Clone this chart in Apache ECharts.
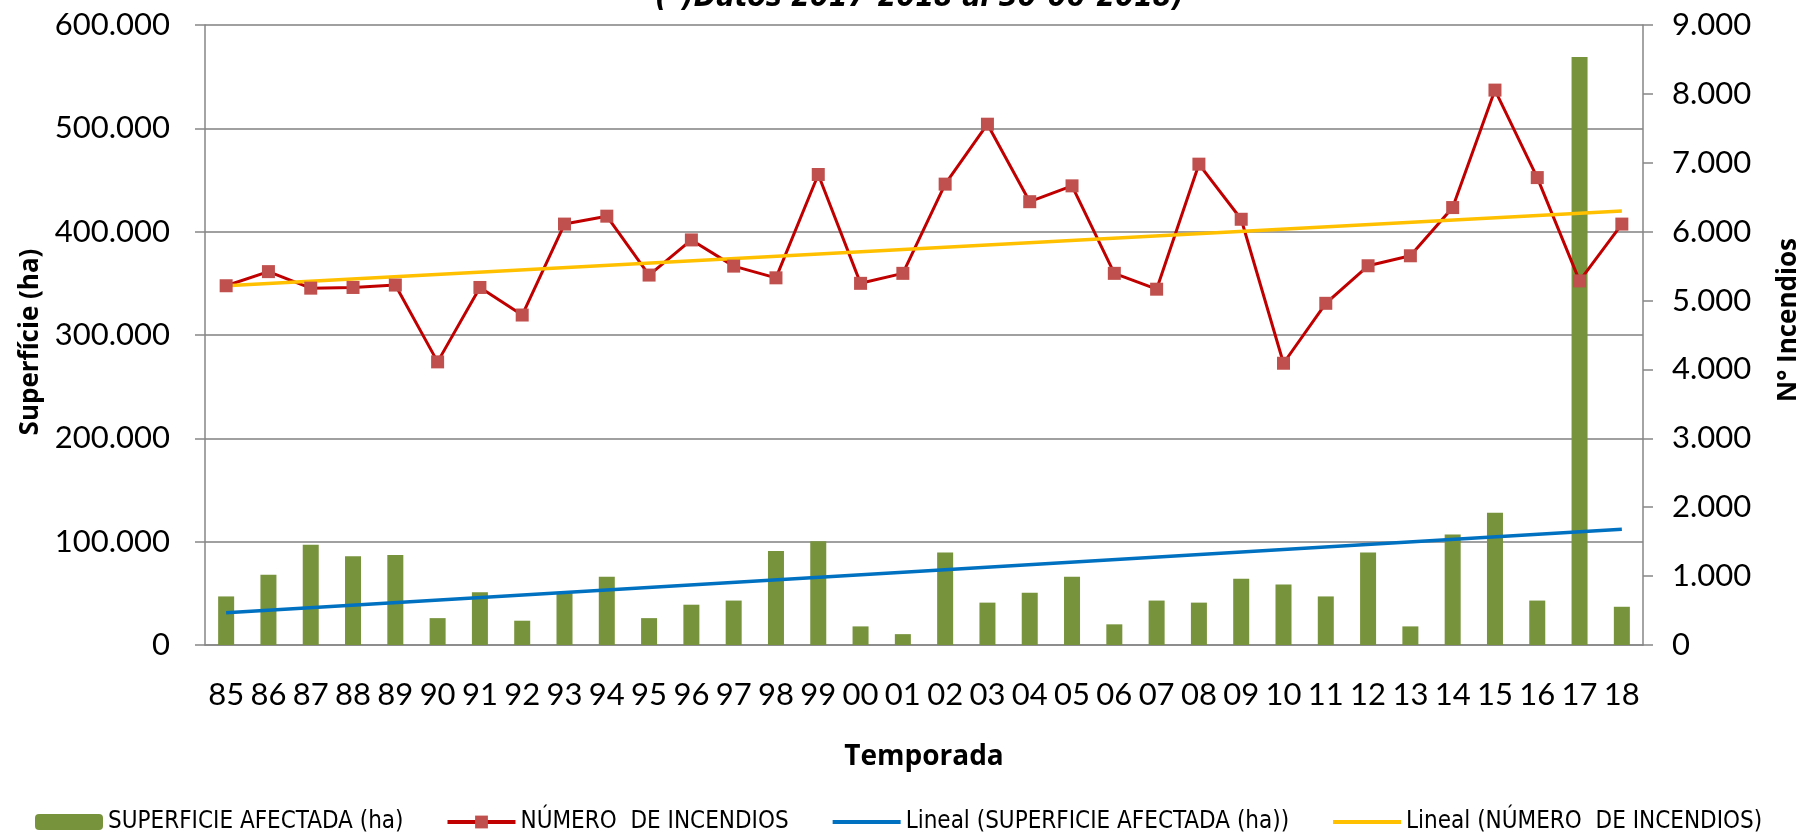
<!DOCTYPE html>
<html>
<head>
<meta charset="utf-8">
<title>Superficie afectada y número de incendios</title>
<script src="https://cdn.jsdelivr.net/npm/echarts@6/dist/echarts.min.js"></script>
<style>
  html, body { margin: 0; padding: 0; background: #fff; }
  #chart { width: 1804px; height: 835px; }
</style>
</head>
<body>
<div id="chart"></div>
<script>
// temporadas 1985 - 2018
const temporadas = ['85', '86', '87', '88', '89', '90', '91', '92', '93', '94', '95', '96', '97', '98', '99', '00', '01',
  '02', '03', '04', '05', '06', '07', '08', '09', '10', '11', '12', '13', '14', '15', '16', '17', '18']

// superficie afectada (ha)
const superficie = [47000, 68000, 97000, 86000, 87000, 26000, 51000, 23500, 50000, 66000, 26000, 39000, 43000, 91000, 100500, 18000, 10500,
  89500, 41000, 50500, 66000, 20000, 43000, 41000, 64000, 58500, 47000, 89500, 18000, 107000, 128000, 43000, 569000, 37000]

// número de incendios
const incendios = [5215, 5420, 5180, 5190, 5225, 4110, 5190, 4790, 6110, 6225, 5370, 5880, 5500, 5330, 6830, 5250, 5395,
  6690, 7560, 6435, 6665, 5395, 5165, 6980, 6180, 4090, 4960, 5505, 5650, 6350, 8055, 6785, 5285, 6110]

// líneas de tendencia (inicio 85, fin 18)
const tendSuperficie = [31300, 112000]
const tendIncendios = [5215, 6300]

const fontLabel = "Lato, 'Open Sans', sans-serif"
const fontLegend = "'DejaVu Sans Condensed', sans-serif"
const fontBold = "'Open Sans', 'Noto Sans', sans-serif"

const fmt = v => v.toLocaleString('de-DE')

const chart = echarts.init(document.getElementById('chart'))

chart.setOption({
  animation: false,
  textStyle: { fontFamily: fontLabel },
  graphic: [{
    type: 'text',
    left: 655,
    top: -17,
    style: {
      text: '(*)Datos 2017-2018 al 30-06-2018)',
      font: 'italic bold 30px ' + fontLegend,
      fill: '#000'
    }
  }],
  grid: {
    left: 205,
    right: 161,
    top: 25,
    bottom: 190,
    outerBoundsMode: 'none'
  },
  legend: {
    left: 30,
    bottom: -4,
    itemWidth: 68,
    itemHeight: 16,
    itemGap: 42,
    lineStyle: { width: 4 },
    textStyle: { fontSize: 24, color: '#000', fontFamily: fontLegend },
    data: ['SUPERFICIE AFECTADA (ha)', 'NÚMERO  DE INCENDIOS', 'Lineal (SUPERFICIE AFECTADA (ha))', 'Lineal (NÚMERO  DE INCENDIOS)']
  },
  xAxis: {
    type: 'category',
    data: temporadas,
    name: 'Temporada',
    nameLocation: 'middle',
    nameGap: 98,
    nameTextStyle: { fontSize: 28, fontWeight: 'bold', color: '#000', fontFamily: fontBold },
    axisLine: { lineStyle: { color: '#868686', width: 1.5 } },
    axisTick: { length: 12, lineStyle: { color: '#868686', width: 1.5 } },
    axisLabel: { fontSize: 31, color: '#000', margin: 34, interval: 0 }
  },
  yAxis: [{
    type: 'value',
    min: 0,
    max: 600000,
    interval: 100000,
    name: 'Superfície (ha)',
    nameLocation: 'middle',
    nameGap: 145,
    nameTextStyle: { fontSize: 26, fontWeight: 'bold', color: '#000', fontFamily: fontBold, padding: [0, 14, 0, 0] },
    axisLine: { show: true, lineStyle: { color: '#868686', width: 1.5 } },
    axisTick: { show: true, length: 10, lineStyle: { color: '#868686', width: 1.5 } },
    axisLabel: { fontSize: 31, color: '#000', margin: 35, formatter: fmt },
    splitLine: { lineStyle: { color: '#a0a0a0', width: 2 } }
  }, {
    type: 'value',
    min: 0,
    max: 9000,
    interval: 1000,
    name: 'N° Incendios',
    nameLocation: 'middle',
    nameGap: 133,
    nameTextStyle: { fontSize: 26, fontWeight: 'bold', color: '#000', fontFamily: fontBold, padding: [0, 0, 0, 30] },
    axisLine: { show: true, lineStyle: { color: '#868686', width: 1.5 } },
    axisTick: { show: true, length: 10, lineStyle: { color: '#868686', width: 1.5 } },
    axisLabel: { fontSize: 31, color: '#000', margin: 29, formatter: fmt },
    splitLine: { show: false }
  }],
  series: [{
    name: 'SUPERFICIE AFECTADA (ha)',
    type: 'bar',
    data: superficie,
    barWidth: 16,
    itemStyle: { color: '#77933C' }
  }, {
    name: 'NÚMERO  DE INCENDIOS',
    type: 'line',
    yAxisIndex: 1,
    data: incendios,
    symbol: 'rect',
    symbolSize: 13,
    lineStyle: { color: '#C00000', width: 3 },
    itemStyle: { color: '#C0504D' }
  }, {
    name: 'Lineal (SUPERFICIE AFECTADA (ha))',
    type: 'line',
    data: [[0, tendSuperficie[0]], [temporadas.length - 1, tendSuperficie[1]]],
    symbol: 'none',
    lineStyle: { color: '#0070C0', width: 3.5 },
    itemStyle: { color: 'rgba(0,0,0,0)' }
  }, {
    name: 'Lineal (NÚMERO  DE INCENDIOS)',
    type: 'line',
    yAxisIndex: 1,
    data: [[0, tendIncendios[0]], [temporadas.length - 1, tendIncendios[1]]],
    symbol: 'none',
    lineStyle: { color: '#FFC000', width: 3.5 },
    itemStyle: { color: 'rgba(0,0,0,0)' }
  }]
})
</script>
</body>
</html>
